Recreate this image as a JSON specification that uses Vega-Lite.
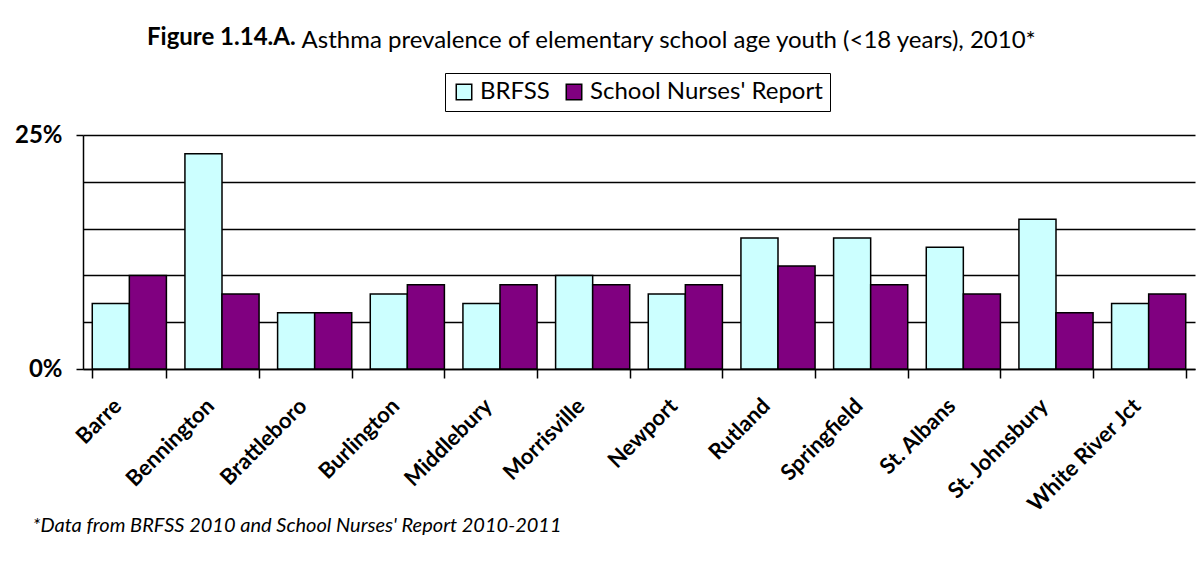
{
  "$schema": "https://vega.github.io/schema/vega-lite/v6.json",
  "width": 1112,
  "height": 234,
  "autosize": "none",
  "padding": {"left": 83, "top": 135, "right": 7, "bottom": 197},
  "background": "white",
  "config": {
    "view": {"stroke": null},
    "font": "Lato"
  },
  "title": {
    "text": "Figure 1.14.A.",
    "anchor": "start",
    "frame": "group",
    "dx": 64,
    "dy": 34,
    "offset": 0,
    "baseline": "middle",
    "font": "Lato",
    "fontSize": 24,
    "fontWeight": "bold",
    "color": "black"
  },
  "data": {
    "values": [
      {"site": "Barre", "source": "BRFSS", "pct": 7},
      {"site": "Barre", "source": "School Nurses' Report", "pct": 10},
      {"site": "Bennington", "source": "BRFSS", "pct": 23},
      {"site": "Bennington", "source": "School Nurses' Report", "pct": 8},
      {"site": "Brattleboro", "source": "BRFSS", "pct": 6},
      {"site": "Brattleboro", "source": "School Nurses' Report", "pct": 6},
      {"site": "Burlington", "source": "BRFSS", "pct": 8},
      {"site": "Burlington", "source": "School Nurses' Report", "pct": 9},
      {"site": "Middlebury", "source": "BRFSS", "pct": 7},
      {"site": "Middlebury", "source": "School Nurses' Report", "pct": 9},
      {"site": "Morrisville", "source": "BRFSS", "pct": 10},
      {"site": "Morrisville", "source": "School Nurses' Report", "pct": 9},
      {"site": "Newport", "source": "BRFSS", "pct": 8},
      {"site": "Newport", "source": "School Nurses' Report", "pct": 9},
      {"site": "Rutland", "source": "BRFSS", "pct": 14},
      {"site": "Rutland", "source": "School Nurses' Report", "pct": 11},
      {"site": "Springfield", "source": "BRFSS", "pct": 14},
      {"site": "Springfield", "source": "School Nurses' Report", "pct": 9},
      {"site": "St. Albans", "source": "BRFSS", "pct": 13},
      {"site": "St. Albans", "source": "School Nurses' Report", "pct": 8},
      {"site": "St. Johnsbury", "source": "BRFSS", "pct": 16},
      {"site": "St. Johnsbury", "source": "School Nurses' Report", "pct": 6},
      {"site": "White River Jct", "source": "BRFSS", "pct": 7},
      {"site": "White River Jct", "source": "School Nurses' Report", "pct": 8}
    ]
  },
  "mark": {"type": "bar", "stroke": "black", "strokeWidth": 1.5},
  "encoding": {
    "x": {
      "field": "site",
      "type": "nominal",
      "sort": null,
      "scale": {"paddingInner": 0.2, "paddingOuter": 0.1},
      "axis": {
        "title": "*Data from BRFSS 2010 and School Nurses' Report 2010-2011",
        "titleFont": "Lato",
        "titleFontSize": 20,
        "titleFontStyle": "italic",
        "titleFontWeight": "normal",
        "titleColor": "black",
        "titleAnchor": "start",
        "titleAlign": "left",
        "titleBaseline": "middle",
        "titleX": -51,
        "titleY": 156,
        "labelAngle": -45,
        "labelAlign": "right",
        "labelBaseline": "middle",
        "labelFont": "Lato",
        "labelFontSize": 22,
        "labelFontWeight": "bold",
        "labelColor": "black",
        "labelPadding": 24,
        "labelOffset": -12,
        "labelLimit": 300,
        "tickBand": "extent",
        "tickSize": 9,
        "tickColor": "black",
        "tickWidth": 1.5,
        "domainColor": "black",
        "domainWidth": 1.5,
        "grid": false
      }
    },
    "xOffset": {"field": "source", "type": "nominal", "sort": ["BRFSS", "School Nurses' Report"], "scale": {"paddingInner": 0, "paddingOuter": 0}},
    "y": {
      "field": "pct",
      "type": "quantitative",
      "scale": {"domain": [0, 25], "nice": false},
      "axis": {
        "title": "Asthma prevalence of elementary school age youth (<18 years), 2010*",
        "titleAngle": 0,
        "titleAlign": "left",
        "titleAnchor": "start",
        "titleBaseline": "middle",
        "titleX": 218,
        "titleY": -95,
        "titleFont": "Lato",
        "titleFontSize": 24,
        "titleFontWeight": "normal",
        "titleColor": "black",
        "values": [0, 5, 10, 15, 20, 25],
        "labelExpr": "datum.value == 0 || datum.value == 25 ? datum.value + '%' : ''",
        "labelFont": "Lato",
        "labelFontSize": 24,
        "labelFontWeight": "bold",
        "labelColor": "black",
        "labelPadding": 14,
        "tickSize": 7,
        "tickWidth": 1.5,
        "tickColor": {"condition": {"test": "datum.value == 0 || datum.value == 25", "value": "black"}, "value": "transparent"},
        "domainColor": "black",
        "domainWidth": 1.5,
        "grid": true,
        "gridColor": "black",
        "gridWidth": 1.5
      }
    },
    "color": {
      "field": "source",
      "type": "nominal",
      "sort": ["BRFSS", "School Nurses' Report"],
      "scale": {"domain": ["BRFSS", "School Nurses' Report"], "range": ["#CCFFFF", "#800080"]},
      "legend": {
        "title": null,
        "orient": "none",
        "direction": "horizontal",
        "legendX": 362,
        "legendY": -62,
        "symbolType": "square",
        "symbolSize": 240,
        "symbolStrokeColor": "black",
        "symbolStrokeWidth": 1.5,
        "symbolOpacity": 1,
        "labelFont": "Lato",
        "labelFontSize": 24,
        "labelColor": "black",
        "labelOffset": 4,
        "labelLimit": 400,
        "columnPadding": 12,
        "padding": 7,
        "strokeColor": "black"
      }
    }
  }
}
